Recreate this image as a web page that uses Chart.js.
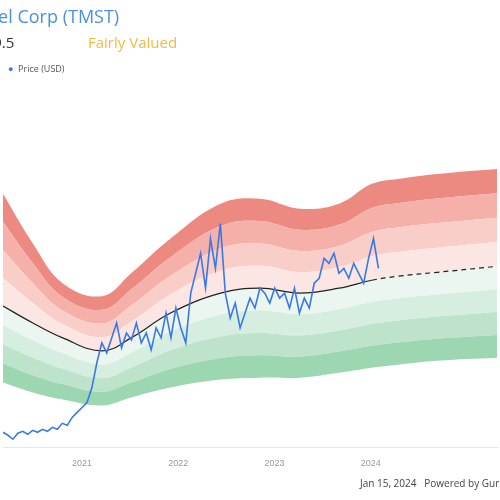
<!DOCTYPE html>
<html>
<head>
<meta charset="utf-8">
<script src="https://cdn.jsdelivr.net/npm/chart.js@4"></script>
<style>
  body { margin: 0; background: #fff; font-family: "Open Sans", Arial, sans-serif; overflow: hidden; }
  #wrap { position: relative; width: 500px; height: 500px; }
  canvas { position: absolute; left: 0; top: 0; }
  .t { position: absolute; white-space: nowrap; }
</style>
</head>
<body>
<div id="wrap">
  <canvas id="c" width="500" height="500"></canvas>
  <div class="t" style="left:-90px;top:4px;font-size:18px;color:#4a90e2">TimkenSteel Corp (TMST)</div>
  <div class="t" style="left:-24px;top:32px;font-size:15px;color:#333">$19.5</div>
  <div class="t" style="left:88px;top:32px;font-size:15px;color:#f5b942">Fairly Valued</div>
  <div class="t" style="left:8px;top:62px;font-size:9px;color:#555"><span style="color:#3b78e7">●</span>&nbsp; Price (USD)</div>
  <div class="t" style="left:360px;top:476px;font-size:10px;color:#444">Jan 15, 2024&nbsp;&nbsp;&nbsp;Powered by GuruFocus</div>
</div>
<script>
// band knots (year)
const knotYears = [2020.18, 2020.49, 2020.80, 2021.21, 2021.51, 2021.92, 2022.44, 2022.85, 2023.26, 2023.67, 2024.01, 2024.28, 2024.69, 2025.31];
const fairValue = [14.2, 12.5, 11.0, 9.7, 11.0, 13.5, 15.5, 16.0, 15.5, 16.0, 16.8, 17.2, 17.6, 18.2];
const upperEdge = [25.5, 20.5, 16.5, 15.2, 17.5, 21.0, 24.5, 25.0, 24.0, 24.5, 26.5, 27.0, 27.5, 28.0];
const lowerEdge = [6.5, 5.5, 4.8, 4.2, 5.0, 6.0, 6.8, 7.0, 7.0, 7.5, 8.0, 8.3, 8.7, 9.0];

// price, roughly weekly from early 2020
const priceStart = 2020.18;
const priceStep = 0.0513;
const prices = [1.5, 1.2, 0.8, 1.4, 1.6, 1.3, 1.7, 1.5, 1.8, 1.6, 2.0, 1.8, 2.4, 2.2, 3.0, 3.5, 4.0, 4.5, 6.0, 8.5,
  10.5, 9.5, 11.0, 12.5, 10.0, 11.5, 10.8, 12.5, 10.5, 11.5, 9.8, 12.0, 11.0, 13.5, 11.0, 14.0, 12.0, 10.5, 15.5, 17.5,
  19.5, 16.0, 21.0, 18.0, 22.5, 15.5, 13.0, 14.5, 12.0, 13.5, 15.0, 14.0, 16.0, 15.5, 14.5, 16.0, 15.0, 15.5, 14.0, 16.0,
  13.5, 15.0, 14.0, 16.5, 17.0, 19.0, 18.5, 19.5, 17.5, 18.0, 17.0, 18.5, 17.5, 16.5, 19.0, 21.0, 18.0];

const fracs = [1, 0.75, 0.5, 0.25];
const greens = ["#9dd7b1", "#bde4ca", "#d6eee0", "#eaf6ef"];
const reds = ["#fce6e3", "#f9cdc8", "#f4b0a9", "#ec8a81"];

const pts = vals => knotYears.map((x, i) => ({ x, y: vals(i) }));
const datasets = [];
fracs.forEach((f, k) => {
  datasets.push({
    data: pts(i => fairValue[i] - f * (fairValue[i] - lowerEdge[i])),
    fill: k === 0 ? false : '-1', backgroundColor: greens[k - 1], borderWidth: 0, pointRadius: 0, tension: 0.4, order: 5
  });
});
datasets.push({ data: pts(i => fairValue[i]), fill: '-1', backgroundColor: greens[3], borderWidth: 0, pointRadius: 0, tension: 0.4, order: 5 });
[0.25, 0.5, 0.75, 1].forEach((f, k) => {
  datasets.push({
    data: pts(i => fairValue[i] + f * (upperEdge[i] - fairValue[i])),
    fill: '-1', backgroundColor: reds[k], borderWidth: 0, pointRadius: 0, tension: 0.4, order: 5
  });
});
datasets.push({
  data: pts(i => fairValue[i]), fill: false, borderColor: "#222", borderWidth: 1.2, pointRadius: 0, tension: 0.4, order: 1,
  segment: { borderDash: ctx => ctx.p0.parsed.x >= 2024 ? [5, 4] : undefined }
});
datasets.push({
  data: prices.map((y, i) => ({ x: priceStart + i * priceStep, y })),
  fill: false, borderColor: "#3b78e7", borderWidth: 1.6, pointRadius: 0, tension: 0, order: 0
});

new Chart(document.getElementById('c'), {
  type: 'line',
  data: { datasets },
  options: {
    responsive: false, animation: false,
    layout: { padding: { top: 0, bottom: 28, left: 0, right: 0 } },
    plugins: { legend: { display: false }, tooltip: { enabled: false } },
    scales: {
      x: {
        type: 'linear', min: 2020.18, max: 2025.31,
        grid: { display: false },
        border: { color: '#e6e6e6' },
        ticks: { stepSize: 1, color: '#999', font: { size: 9 }, callback: v => Number.isInteger(v) ? String(v) : '' }
      },
      y: { display: false, min: 0, max: 45 }
    }
  }
});
</script>
</body>
</html>
